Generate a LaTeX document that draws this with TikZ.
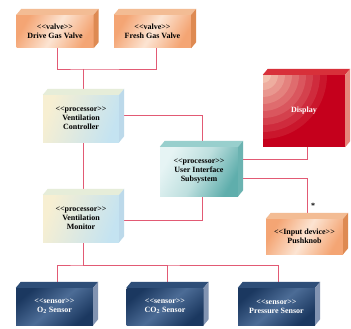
\documentclass[tikz,border=0pt]{standalone}
\usepackage{fontspec}
\setmainfont{Liberation Serif}
\usepackage{tikz}
\usetikzlibrary{calc, backgrounds}

\definecolor{wirered}{HTML}{E25A74}
\definecolor{valveA}{HTML}{F4A574}
\definecolor{valveB}{HTML}{FCE4D2}
\definecolor{valveTop}{HTML}{F3BC94}
\definecolor{valveSide}{HTML}{DE8A52}
\definecolor{procA}{HTML}{F7EFD2}
\definecolor{procB}{HTML}{C4E3F1}
\definecolor{procTop}{HTML}{E6EDD9}
\definecolor{procSide}{HTML}{BCD9EA}
\definecolor{uiA}{HTML}{5FAEAC}
\definecolor{uiB}{HTML}{E6F4F4}
\definecolor{uiTop}{HTML}{98CFCD}
\definecolor{uiSide}{HTML}{6BB3B1}
\definecolor{dispred}{HTML}{C5001C}
\definecolor{dispglow}{HTML}{F8D8C0}
\definecolor{dispTop}{HTML}{D8303A}
\definecolor{dispSide}{HTML}{E6857A}
\definecolor{sensA}{HTML}{1B3860}
\definecolor{sensB}{HTML}{4C6C96}
\definecolor{sensTop}{HTML}{2E4E78}
\definecolor{sensSide}{HTML}{8294B2}

% top and side face of a device box
\newcommand{\DevFaces}[3]{
	\fill[#2] (#1.north west) -- ++(5,-6) -- ($ (#1.north east)+(5,-6) $) -- (#1.north east) -- cycle;
	\fill[#3] (#1.north east) -- ++(5,-6) -- ($ (#1.south east)+(5,-6) $) -- (#1.south east) -- cycle;
}

\tikzset{
	wire/.style={wirered, line width=0.9pt},
	device/.style={rectangle, inner sep=1pt, align=center, font=\fontsize{8}{9}\selectfont\bfseries},
	valve/.style={device, left color=valveA, right color=valveA, middle color=valveB, shading angle=60, minimum width=77, minimum height=33},
	proc/.style={device, left color=procA, right color=procB, shading angle=70, minimum width=76, minimum height=47},
	uibox/.style={device, left color=uiB, right color=uiA, middle color=uiB!70!uiA, shading angle=60, minimum width=78, minimum height=49},
	sensor/.style={device, left color=sensA, right color=sensA, middle color=sensB, shading angle=40, text=white, minimum width=77, minimum height=37},
	rings/.style={path picture={
		\foreach \k in {9,...,0}{
			\pgfmathtruncatemacro\pct{10+90*\k/9}
			\fill[dispred!\pct!dispglow] (path picture bounding box.north west) circle ({(8+7*\k)*1pt});
		}}}
}

\begin{document}
\begin{tikzpicture}[x=1pt, y=-1pt]

	\useasboundingbox (0,0) rectangle (351,329);

	% valves
	\node[valve] (drive) at (55,31.5) {<{}<valve>{}>\\Drive Gas Valve};
	\node[valve] (fresh) at (152.5,31.5) {<{}<valve>{}>\\Fresh Gas Valve};
	\DevFaces{drive}{valveTop}{valveSide}
	\DevFaces{fresh}{valveTop}{valveSide}

	% processors
	\node[proc] (ctrl) at (81,118.5) {<{}<processor>{}>\\Ventilation\\Controller};
	\node[proc] (mon) at (81,218.5) {<{}<processor>{}>\\Ventilation\\Monitor};
	\node[uibox] (ui) at (199,171.5) {<{}<processor>{}>\\User Interface\\Subsystem};
	\DevFaces{ctrl}{procTop}{procSide}
	\DevFaces{mon}{procTop}{procSide}
	\DevFaces{ui}{uiTop}{uiSide}

	% display and input device
	\node[device, minimum width=82, minimum height=72, fill=dispred, text=white, rings] (disp) at (304,111) {Display};
	\node[valve, minimum height=35] (push) at (304.5,236.5) {<{}<Input device>{}>\\Pushknob};
	\DevFaces{disp}{dispTop}{dispSide}
	\DevFaces{push}{valveTop}{valveSide}
	\node[font=\fontsize{8}{9}\selectfont\bfseries, inner sep=0] (mult) at (313,206) {*};

	% sensors
	\node[sensor] (otwo) at (54.5,306.5) {<{}<sensor>{}>\\O\textsubscript{2} Sensor};
	\node[sensor] (cotwo) at (165,306.5) {<{}<sensor>{}>\\CO\textsubscript{2} Sensor};
	\node[sensor] (press) at (276.5,306.5) {<{}<sensor>{}>\\Pressure Sensor};
	\DevFaces{otwo}{sensTop}{sensSide}
	\DevFaces{cotwo}{sensTop}{sensSide}
	\DevFaces{press}{sensTop}{sensSide}

	\begin{pgfonlayer}{background}
		\fill[white] (0,0) rectangle (351,329);
		\coordinate (vbus) at (83,69);
		\coordinate (sbus) at (83,265);
		\draw[wire] ([xshift=2]drive.south) |- (vbus) -| ([xshift=4]fresh.south);
		\draw[wire] (vbus) -- ([xshift=2]ctrl.north);
		\draw[wire] ([yshift=3]ctrl.east) -| ([xshift=3]ui.north);
		\draw[wire] ([xshift=2]ctrl.south) -- ([xshift=2]mon.north);
		\draw[wire] ([yshift=-1.5]mon.east) -| ([xshift=3]ui.south);
		\draw[wire] ([xshift=3]disp.south) |- ([yshift=12.5]ui.east);
		\draw[wire] ([yshift=-6.5]ui.east) -| ([xshift=2.5]push.north);
		\draw[wire] ([xshift=2]mon.south) -- (sbus);
		\draw[wire] ([xshift=2.5]otwo.north) |- (sbus) -| ([xshift=1.5]press.north);
		\draw[wire] (sbus) -| ([xshift=2]cotwo.north);
	\end{pgfonlayer}

\end{tikzpicture}
\end{document}
